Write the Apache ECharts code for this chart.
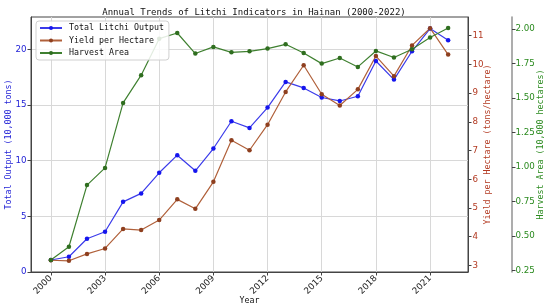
<!DOCTYPE html>
<html>
<head>
<meta charset="utf-8">
<script src="https://cdn.jsdelivr.net/npm/echarts@6/dist/echarts.min.js"></script>
<style>
  html, body { margin: 0; padding: 0; background: #fff; }
  #chart { width: 550px; height: 308px; }
</style>
</head>
<body>
<div id="chart"></div>
<script>
// data
var years = [2000, 2001, 2002, 2003, 2004, 2005, 2006, 2007, 2008, 2009, 2010, 2011,
             2012, 2013, 2014, 2015, 2016, 2017, 2018, 2019, 2020, 2021, 2022];
var totalOutput = [1.08, 1.37, 2.99, 3.61, 6.30, 7.06, 8.91, 10.49, 9.09, 11.09, 13.54, 12.94,
                   14.77, 17.07, 16.53, 15.67, 15.36, 15.78, 18.95, 17.28, 19.82, 21.86, 20.81];
var yieldPerHa = [3.18, 3.16, 3.40, 3.59, 4.27, 4.23, 4.58, 5.30, 4.97, 5.91, 7.36, 7.01,
                  7.90, 9.04, 9.97, 8.96, 8.57, 9.13, 10.29, 9.59, 10.66, 11.26, 10.34];
var harvestArea = [0.325, 0.421, 0.868, 0.993, 1.464, 1.665, 1.930, 1.971, 1.822, 1.870, 1.831, 1.838,
                   1.858, 1.889, 1.826, 1.749, 1.790, 1.725, 1.841, 1.793, 1.853, 1.938, 2.007];
var yearTicks = [2000, 2003, 2006, 2009, 2012, 2015, 2018, 2021];
var outputTicks = [0, 5, 10, 15, 20];
var yieldTicks = [3, 4, 5, 6, 7, 8, 9, 10, 11];
var areaTicks = [0.25, 0.5, 0.75, 1.0, 1.25, 1.5, 1.75, 2.0];

var MONO = 'DejaVu Sans Mono';
var SANS = 'DejaVu Sans';

function pairs(vals) {
    return years.map(function(y, i) { return [y, vals[i]]; });
}

function valueAxis(color, name, ticks, range, gap, extra) {
    var ax = {
        type: 'value',
        name: name,
        nameLocation: 'middle',
        nameGap: gap,
        nameMoveOverlap: false,
        nameTextStyle: { color: color, fontFamily: MONO, fontSize: 8.3 },
        min: range[0],
        max: range[1],
        axisLine: { show: true, lineStyle: { color: '#444', width: 1 } },
        axisTick: { show: true, length: 3.5, customValues: ticks, lineStyle: { color: '#444' } },
        axisLabel: { color: color, fontFamily: SANS, fontSize: 8.7, margin: 4.5, customValues: ticks },
        splitLine: { show: false }
    };
    for (var k in extra) ax[k] = extra[k];
    return ax;
}

var ec = echarts.init(document.getElementById('chart'));
ec.setOption({
    animation: false,
    backgroundColor: '#fff',
    title: {
        text: 'Annual Trends of Litchi Indicators in Hainan (2000-2022)',
        left: 249,
        textAlign: 'center',
        top: 3,
        textStyle: { fontFamily: MONO, fontSize: 9, fontWeight: 'normal', color: '#111' }
    },
    legend: {
        orient: 'vertical',
        left: 36,
        top: 21,
        itemWidth: 22,
        itemHeight: 5,
        itemGap: 4.5,
        padding: [3, 5, 3, 3],
        backgroundColor: 'rgba(255,255,255,0.85)',
        borderColor: '#d0d0d0',
        borderWidth: 1,
        borderRadius: 3,
        textStyle: { fontFamily: MONO, fontSize: 8.3, color: '#111', padding: [0, 0, 0, 2] },
        data: ['Total Litchi Output', 'Yield per Hectare', 'Harvest Area']
    },
    grid: {
        left: 31, right: 82, top: 17, bottom: 36,
        outerBoundsMode: 'none',
        containLabel: false,
        show: true, borderColor: '#444', borderWidth: 1
    },
    xAxis: {
        type: 'value',
        name: 'Year',
        nameLocation: 'middle',
        nameGap: 25,
        nameMoveOverlap: false,
        nameTextStyle: { fontFamily: MONO, fontSize: 8.3, color: '#111' },
        min: 1998.9,
        max: 2023.1,
        axisLine: { lineStyle: { color: '#444' } },
        axisTick: { length: 3.5, customValues: yearTicks, lineStyle: { color: '#444' } },
        axisLabel: {
            customValues: yearTicks, rotate: 45, margin: 5,
            fontFamily: SANS, fontSize: 8.8, color: '#222',
            formatter: function(v) { return String(v); }
        },
        splitLine: { show: true, lineStyle: { color: '#d8d8d8', width: 1 } }
    },
    yAxis: [
        valueAxis('#2323d6', 'Total Output (10,000 tons)', outputTicks, [0, 22.9], 18, {
            position: 'left',
            splitLine: { show: true, lineStyle: { color: '#d8d8d8', width: 1 } }
        }),
        valueAxis('#b33a22', 'Yield per Hectare (tons/hectare)', yieldTicks, [2.77, 11.65], 15.5, {
            position: 'right'
        }),
        valueAxis('#2a8a1e', 'Harvest Area (10,000 hectares)', areaTicks, [0.238, 2.087], 25, {
            position: 'right',
            offset: 44,
            axisLine: { show: true, lineStyle: { color: '#999', width: 1.6 } },
            axisLabel: {
                color: '#2a8a1e', fontFamily: SANS, fontSize: 8.7, margin: 3.5, customValues: areaTicks,
                formatter: function(v) { return v.toFixed(2); }
            }
        })
    ],
    series: [{
        name: 'Total Litchi Output',
        type: 'line',
        yAxisIndex: 0,
        symbol: 'circle',
        symbolSize: 4.5,
        itemStyle: { color: '#1515ee' },
        lineStyle: { color: '#3b3bea', width: 1.2 },
        data: pairs(totalOutput)
    }, {
        name: 'Yield per Hectare',
        type: 'line',
        yAxisIndex: 1,
        symbol: 'circle',
        symbolSize: 4.5,
        itemStyle: { color: '#8e3f1f' },
        lineStyle: { color: '#b0603a', width: 1.2 },
        data: pairs(yieldPerHa)
    }, {
        name: 'Harvest Area',
        type: 'line',
        yAxisIndex: 2,
        symbol: 'circle',
        symbolSize: 4.5,
        itemStyle: { color: '#2f6e1f' },
        lineStyle: { color: '#3f8030', width: 1.2 },
        data: pairs(harvestArea)
    }]
});
</script>
</body>
</html>
